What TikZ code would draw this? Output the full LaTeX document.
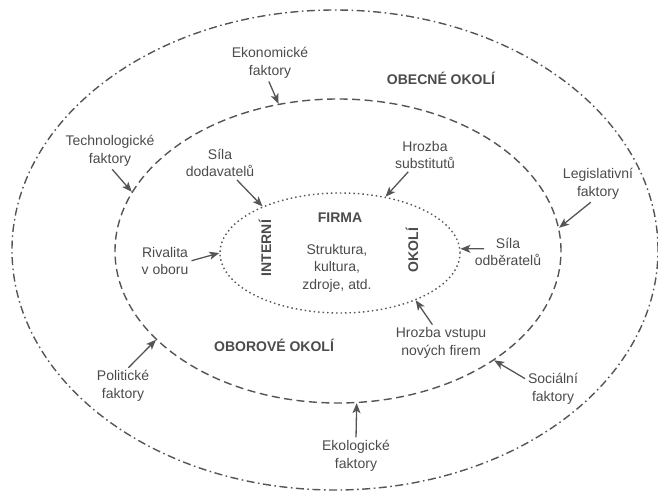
\documentclass[tikz,border=0pt]{standalone}
\usepackage{fontspec}
\setmainfont{Liberation Sans}
\usetikzlibrary{arrows.meta,calc,shapes.geometric}
\definecolor{linegray}{RGB}{85,85,85}
\definecolor{textgray}{RGB}{75,75,75}

\begin{document}
\begin{tikzpicture}[x=1pt,y=-1pt,
    lbl/.style={font=\fontsize{14}{17.5}\selectfont,text=textgray,align=center,inner sep=2pt},
    head/.style={lbl,font=\fontsize{14}{17.5}\selectfont\bfseries},
    ring/.style={ellipse,draw=linegray,line width=1.4pt,inner sep=0pt},
    pointer/.style={-{Stealth[length=10pt,width=8pt,inset=2.5pt]},linegray,line width=1.3pt,shorten <=1pt}]
  \useasboundingbox (0,0) rectangle (658,492);

  % the three zones
  \node[ring,minimum width=646pt,minimum height=480pt,dash pattern=on 8pt off 3.5pt on 1.6pt off 3.5pt] (obecne) at (335,250) {};
  \node[ring,minimum width=446pt,minimum height=304pt,dash pattern=on 8pt off 4.5pt] (oborove) at (338,251) {};
  \node[ring,minimum width=240pt,minimum height=120pt,dash pattern=on 1.5pt off 3pt] (firma) at (340,253) {};

  \node[head] (obecnetxt) at (441,78) {OBECNÉ OKOLÍ};
  \node[head] (oborovetxt) at (274,345) {OBOROVÉ OKOLÍ};
  \node[head] (firmatxt) at (340,218) {FIRMA};
  \node[lbl] (struktura) at (337,268) {Struktura,\\kultura,\\zdroje, atd.};
  \node[head,rotate=90] (interni) at (265,248) {INTERNÍ};
  \node[head,rotate=90] (okoli) at (412,250) {OKOLÍ};

  % general factors
  \node[lbl] (eko) at (270,63) {Ekonomické\\faktory};
  \node[lbl] (tech) at (110,151) {Technologické\\faktory};
  \node[lbl] (legis) at (598,184) {Legislativní\\faktory};
  \node[lbl] (polit) at (123,386) {Politické\\faktory};
  \node[lbl] (social) at (553,389) {Sociální\\faktory};
  \node[lbl] (ekol) at (356,456) {Ekologické\\faktory};

  % industry forces
  \node[lbl] (dodav) at (220,163) {Síla\\dodavatelů};
  \node[lbl] (subst) at (425,155) {Hrozba\\substitutů};
  \node[lbl] (rival) at (165,261) {Rivalita\\v oboru};
  \node[lbl] (odber) at (508,252) {Síla\\odběratelů};
  \node[lbl] (vstup) at (441,343) {Hrozba vstupu\\nových firem};

  \draw[pointer] (eko.-95) -- (oborove.112.7);
  \draw[pointer] (tech.-85) -- (oborove.164);
  \draw[pointer] (legis.-110) -- (oborove.6);
  \draw[pointer] (polit.75) -- (oborove.-154);
  \draw[pointer] (social.160) -- (oborove.-35);
  \draw[pointer] (ekol.north) -- (oborove.-83);

  \draw[pointer] (dodav.-45) -- (firma.149);
  \draw[pointer] (subst.-135) -- (firma.51);
  \draw[pointer] (rival.east) -- (firma.180);
  \draw[pointer] ($(odber.north)+(-23,13)$) -- (firma.2);
  \draw[pointer] ($(vstup.north)+(-8,0)$) -- (firma.-32);
\end{tikzpicture}
\end{document}
